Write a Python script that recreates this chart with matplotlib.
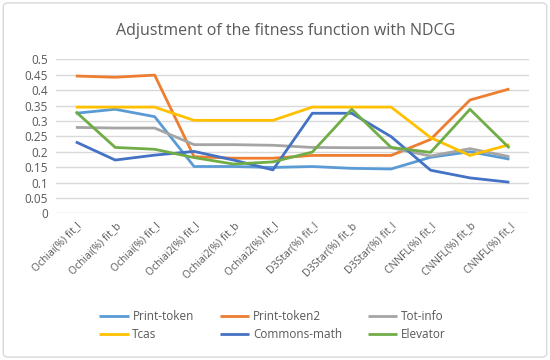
import matplotlib
matplotlib.use("Agg")
import matplotlib.pyplot as plt
from matplotlib.patches import FancyBboxPatch

categories = ["Ochiai(%) fit_l", "Ochiai(%) fit_b", "Ochiai(%) fit_l",
              "Ochiai2(%) fit_l", "Ochiai2(%) fit_b", "Ochiai2(%) fit_l",
              "D3Star(%) fit_l", "D3Star(%) fit_b", "D3Star(%) fit_l",
              "CNNFL(%) fit_l", "CNNFL(%) fit_b", "CNNFL(%) fit_l"]

print_token = [0.325, 0.338, 0.314, 0.152, 0.152, 0.149, 0.152, 0.146, 0.144, 0.182, 0.200, 0.176]
print_token2 = [0.446, 0.442, 0.449, 0.184, 0.179, 0.179, 0.188, 0.188, 0.188, 0.240, 0.368, 0.404]
tot_info = [0.279, 0.277, 0.277, 0.223, 0.223, 0.221, 0.214, 0.213, 0.213, 0.186, 0.210, 0.184]
tcas = [0.345, 0.345, 0.345, 0.302, 0.302, 0.302, 0.345, 0.345, 0.345, 0.246, 0.188, 0.223]
commons_math = [0.232, 0.173, 0.189, 0.201, 0.173, 0.141, 0.325, 0.325, 0.249, 0.140, 0.115, 0.101]
elevator = [0.330, 0.214, 0.208, 0.181, 0.160, 0.167, 0.199, 0.338, 0.214, 0.198, 0.338, 0.212]

series = [
    ("Print-token", print_token, "#5B9BD5"),
    ("Print-token2", print_token2, "#ED7D31"),
    ("Tot-info", tot_info, "#A5A5A5"),
    ("Tcas", tcas, "#FFC000"),
    ("Commons-math", commons_math, "#4472C4"),
    ("Elevator", elevator, "#70AD47"),
]

plt.rcParams['font.family'] = ['Open Sans', 'DejaVu Sans']
txt = "#595959"

fig = plt.figure(figsize=(5.5, 3.6), dpi=100)
fig.patches.append(FancyBboxPatch((0.006, 0.008), 0.988, 0.984,
                                  boxstyle="round,pad=0,rounding_size=0.01",
                                  transform=fig.transFigure, fill=False,
                                  edgecolor="#D9D9D9", linewidth=1.0))
ax = fig.add_axes([0.102, 0.4075, 0.86, 0.4275])

x = list(range(len(categories)))
handles = {}
for name, vals, col in series:
    ln, = ax.plot(x, vals, color=col, linewidth=2.0, label=name, solid_capstyle="butt")
    handles[name] = ln

ax.set_xlim(-0.5, len(categories) - 0.5)
ax.set_ylim(0, 0.5)
yt = [i * 0.05 for i in range(11)]
ax.set_yticks(yt)
ax.set_yticklabels(["0", "0.05", "0.1", "0.15", "0.2", "0.25", "0.3", "0.35", "0.4", "0.45", "0.5"])
ax.yaxis.grid(True, color="#D9D9D9", linewidth=1.0)
ax.set_axisbelow(True)
for s in ax.spines.values():
    s.set_visible(False)
ax.tick_params(axis='both', length=0, colors=txt, labelsize=8.5)
ax.tick_params(axis='y', pad=6)
ax.set_xticks(x)
ax.set_xticklabels(categories, rotation=45, ha="right", rotation_mode="anchor", fontsize=7.5)
ax.tick_params(axis='x', pad=5)

fig.text(0.52, 0.915, "Adjustment of the fitness function with NDCG", ha="center", va="center",
         fontsize=11.5, color=txt)

order = ["Print-token", "Tcas", "Print-token2", "Commons-math", "Tot-info", "Elevator"]
fig.legend([handles[n] for n in order], order, ncol=3, loc="upper left",
           bbox_to_anchor=(0.172, 0.152), frameon=False, fontsize=8.5,
           labelcolor=txt, handlelength=2.5, handletextpad=0.3, columnspacing=2.2,
           labelspacing=0.4, borderaxespad=0)

fig.savefig("out.png", dpi=100)
